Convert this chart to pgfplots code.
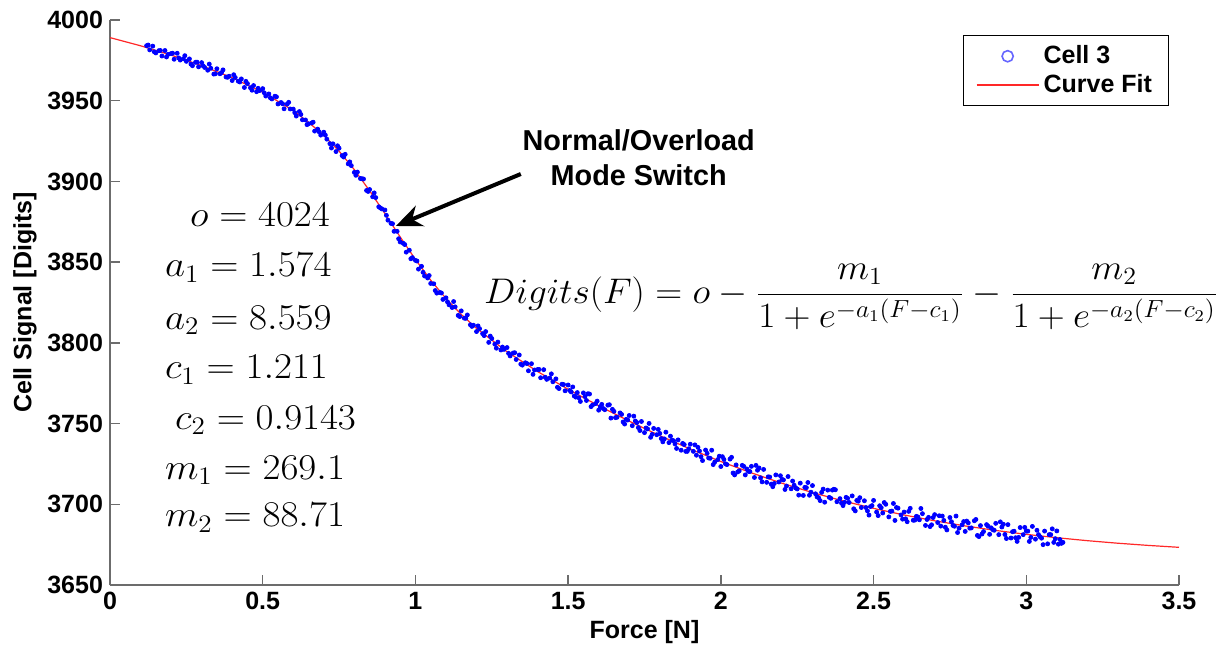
\documentclass[border=0pt]{standalone}
\usepackage[no-math]{fontspec}
\newfontfamily\hv{Liberation Sans}
\usepackage{pgfplots}
\pgfplotsset{compat=1.18}
\usetikzlibrary{arrows.meta}

\pgfplotstableread{
x y
0.12 3984.1
0.13 3981.5
0.14 3983.8
0.15 3979.6
0.16 3981.0
0.17 3977.7
0.18 3981.1
0.19 3978.7
0.20 3979.2
0.21 3975.7
0.22 3979.4
0.23 3975.2
0.24 3976.0
0.25 3974.4
0.26 3975.9
0.27 3971.7
0.28 3973.8
0.29 3971.0
0.30 3973.6
0.31 3970.6
0.32 3968.9
0.33 3970.1
0.34 3966.5
0.35 3969.8
0.36 3966.7
0.37 3969.1
0.38 3964.7
0.39 3965.2
0.40 3962.5
0.41 3964.4
0.42 3962.1
0.43 3963.5
0.44 3958.2
0.45 3960.6
0.46 3958.0
0.47 3959.4
0.48 3955.6
0.49 3956.3
0.50 3957.5
0.51 3952.9
0.52 3954.2
0.53 3951.1
0.54 3952.8
0.55 3948.0
0.56 3948.9
0.57 3945.0
0.58 3947.9
0.59 3944.9
0.60 3944.8
0.61 3940.5
0.62 3943.3
0.63 3938.2
0.64 3938.1
0.65 3935.7
0.66 3936.2
0.67 3931.2
0.68 3932.4
0.69 3928.7
0.70 3930.5
0.71 3926.2
0.72 3923.4
0.73 3923.3
0.74 3918.5
0.75 3920.6
0.76 3916.0
0.77 3916.8
0.78 3910.9
0.79 3909.8
0.80 3905.6
0.81 3905.8
0.82 3901.8
0.83 3901.5
0.84 3894.4
0.85 3895.0
0.86 3890.5
0.87 3890.0
0.88 3884.3
0.89 3883.0
0.90 3882.3
0.91 3876.0
0.92 3874.0
0.93 3869.1
0.94 3869.1
0.95 3862.5
0.96 3861.7
0.97 3856.2
0.98 3857.4
0.99 3852.8
1.00 3851.1
1.01 3845.7
1.02 3847.4
1.03 3841.4
1.04 3840.2
1.05 3836.8
1.06 3836.6
1.07 3830.8
1.08 3831.2
1.09 3826.9
1.10 3827.9
1.11 3823.6
1.12 3821.9
1.13 3822.3
1.14 3817.0
1.15 3819.8
1.16 3815.3
1.17 3817.3
1.18 3811.2
1.19 3810.9
1.20 3807.0
1.21 3808.8
1.22 3805.7
1.23 3807.0
1.24 3800.3
1.25 3802.7
1.26 3799.2
1.27 3800.5
1.28 3795.6
1.29 3796.0
1.30 3797.1
1.31 3791.9
1.32 3793.7
1.33 3789.7
1.34 3792.5
1.35 3786.2
1.36 3787.7
1.37 3782.7
1.38 3787.1
1.39 3783.2
1.40 3783.5
1.41 3778.4
1.42 3783.4
1.43 3777.4
1.44 3778.2
1.45 3775.9
1.46 3777.7
1.47 3771.7
1.48 3774.4
1.49 3770.3
1.50 3773.9
1.51 3769.6
1.52 3767.1
1.53 3769.2
1.54 3763.7
1.55 3769.0
1.56 3764.3
1.57 3768.3
1.58 3761.5
1.59 3762.4
1.60 3758.3
1.61 3761.9
1.62 3758.6
1.63 3761.4
1.64 3753.4
1.65 3757.6
1.66 3753.9
1.67 3756.6
1.68 3751.0
1.69 3752.6
1.70 3755.0
1.71 3748.7
1.72 3751.6
1.73 3747.5
1.74 3751.3
1.75 3744.4
1.76 3746.7
1.77 3741.5
1.78 3747.0
1.79 3743.1
1.80 3743.9
1.81 3738.7
1.82 3744.7
1.83 3738.2
1.84 3739.7
1.85 3737.4
1.86 3739.9
1.87 3733.5
1.88 3737.0
1.89 3732.8
1.90 3737.2
1.91 3732.8
1.92 3730.4
1.93 3733.0
1.94 3727.1
1.95 3733.6
1.96 3728.7
1.97 3733.5
1.98 3726.2
1.99 3727.7
2.00 3723.4
2.01 3727.8
2.02 3724.6
2.03 3728.0
2.04 3719.4
2.05 3724.4
2.06 3720.7
2.07 3724.1
2.08 3718.2
2.09 3720.4
2.10 3723.5
2.11 3716.6
2.12 3721.1
2.13 3716.4
2.14 3721.6
2.15 3713.6
2.16 3716.9
2.17 3710.9
2.18 3718.2
2.19 3713.8
2.20 3715.4
2.21 3709.2
2.22 3717.2
2.23 3709.6
2.24 3711.8
2.25 3709.5
2.26 3713.1
2.27 3705.5
2.28 3710.3
2.29 3705.6
2.30 3711.6
2.31 3706.5
2.32 3704.1
2.33 3707.4
2.34 3701.3
2.35 3708.8
2.36 3703.7
2.37 3709.3
2.38 3701.6
2.39 3703.5
2.40 3699.2
2.41 3704.3
2.42 3701.1
2.43 3705.2
2.44 3695.9
2.45 3701.9
2.46 3698.0
2.47 3702.2
2.48 3695.9
2.49 3698.6
2.50 3702.4
2.51 3695.2
2.52 3699.1
2.53 3694.6
2.54 3700.0
2.55 3692.2
2.56 3695.8
2.57 3690.0
2.58 3697.6
2.59 3693.4
2.60 3695.2
2.61 3689.2
2.62 3697.5
2.63 3690.1
2.64 3692.5
2.65 3690.4
2.66 3694.2
2.67 3686.9
2.68 3691.9
2.69 3687.3
2.70 3693.6
2.71 3688.7
2.72 3686.5
2.73 3690.0
2.74 3684.1
2.75 3691.8
2.76 3686.9
2.77 3692.7
2.78 3685.2
2.79 3687.3
2.80 3683.2
2.81 3688.5
2.82 3685.4
2.83 3689.8
2.84 3680.7
2.85 3686.8
2.86 3683.1
2.87 3687.4
2.88 3681.4
2.89 3684.3
2.90 3688.2
2.91 3681.2
2.92 3685.9
2.93 3681.3
2.94 3687.4
2.95 3679.1
2.96 3683.3
2.97 3677.0
2.98 3685.6
2.99 3681.2
3.00 3683.4
3.01 3677.0
3.02 3686.3
3.03 3678.4
3.04 3681.2
3.05 3679.0
3.06 3683.4
3.07 3675.5
3.08 3681.2
3.09 3676.4
3.10 3683.5
3.11 3678.2
3.12 3676.4
0.125 3984.5
0.145 3980.3
0.165 3981.1
0.185 3977.1
0.205 3979.4
0.225 3976.5
0.245 3977.9
0.265 3972.7
0.285 3973.9
0.305 3971.6
0.325 3972.7
0.345 3966.7
0.365 3967.4
0.385 3964.5
0.405 3966.1
0.425 3961.6
0.445 3962.0
0.465 3956.5
0.485 3957.7
0.505 3954.9
0.525 3951.8
0.545 3952.4
0.565 3948.1
0.585 3949.0
0.605 3942.6
0.625 3941.5
0.645 3935.2
0.665 3936.7
0.685 3930.7
0.705 3928.7
0.725 3920.7
0.745 3922.1
0.765 3915.1
0.785 3912.1
0.805 3903.8
0.825 3901.7
0.845 3893.8
0.865 3892.9
0.885 3883.6
0.905 3879.0
0.925 3873.8
0.945 3864.5
0.965 3860.9
0.985 3852.1
1.005 3850.7
1.025 3843.7
1.045 3841.7
1.065 3832.4
1.085 3830.9
1.105 3825.4
1.125 3825.6
1.145 3816.3
1.165 3815.2
1.185 3810.2
1.205 3810.5
1.225 3804.5
1.245 3804.2
1.265 3796.7
1.285 3797.4
1.305 3793.5
1.325 3793.9
1.345 3786.8
1.365 3787.2
1.385 3780.5
1.405 3783.5
1.425 3778.7
1.445 3780.8
1.465 3772.5
1.485 3774.2
1.505 3770.5
1.515 3772.7
1.535 3766.0
1.555 3766.8
1.575 3760.5
1.595 3763.9
1.615 3759.3
1.635 3761.7
1.655 3753.7
1.675 3755.7
1.695 3752.2
1.715 3754.6
1.735 3745.7
1.755 3747.3
1.775 3743.3
1.795 3746.4
1.815 3740.5
1.835 3742.2
1.855 3734.6
1.875 3737.7
1.895 3734.4
1.915 3736.8
1.935 3729.5
1.955 3731.6
1.975 3724.6
1.995 3729.8
2.015 3725.1
2.035 3729.1
2.055 3720.0
2.075 3723.5
2.095 3720.3
2.115 3724.1
2.135 3713.9
2.155 3717.0
2.175 3712.9
2.195 3717.7
2.215 3711.3
2.235 3714.4
2.255 3705.7
2.275 3710.5
2.295 3707.5
2.315 3704.6
2.335 3709.4
2.355 3704.3
2.375 3709.0
2.395 3700.8
2.415 3703.7
2.435 3697.2
2.455 3704.1
2.475 3698.0
2.495 3699.2
2.515 3693.0
2.535 3701.1
2.555 3695.6
2.575 3698.0
2.595 3690.8
2.615 3695.6
2.635 3690.2
2.655 3697.4
2.675 3690.6
2.695 3691.8
2.715 3692.9
2.735 3685.8
2.755 3689.2
2.775 3682.5
2.795 3689.3
2.815 3685.2
2.835 3690.6
2.855 3681.6
2.875 3686.4
2.895 3683.9
2.915 3689.1
2.935 3678.8
2.955 3683.0
2.975 3679.5
2.995 3685.7
3.015 3679.5
3.035 3683.9
3.055 3675.0
3.075 3681.2
3.095 3678.7
3.115 3675.8
1.525 3766.4
1.565 3768.5
1.605 3760.4
1.645 3758.8
1.685 3749.7
1.725 3750.6
1.765 3750.1
1.805 3740.7
1.845 3739.4
1.885 3732.8
1.925 3735.3
1.965 3728.5
2.005 3729.5
2.045 3718.2
2.085 3721.9
2.125 3722.5
2.165 3712.5
2.205 3715.1
2.245 3710.1
2.285 3713.5
2.325 3702.3
2.365 3708.8
2.405 3701.2
2.445 3702.4
2.485 3693.3
2.525 3697.9
2.565 3700.5
2.605 3691.0
2.645 3692.2
2.685 3686.2
2.725 3692.7
2.765 3686.4
2.805 3689.6
2.845 3680.0
2.885 3685.4
2.925 3687.6
2.965 3679.3
3.005 3683.4
3.045 3679.9
3.085 3684.8
3.105 3675.3
}\celldata

\pgfplotstableread{
x y
0.00 3989.10
0.10 3984.04
0.20 3978.27
0.30 3971.74
0.40 3964.23
0.50 3955.26
0.60 3943.94
0.65 3936.60
0.70 3928.60
0.75 3918.77
0.80 3907.29
0.85 3894.23
0.90 3880.09
0.95 3865.62
1.00 3851.66
1.05 3838.85
1.10 3827.50
1.15 3817.61
1.20 3808.98
1.30 3794.48
1.40 3782.24
1.50 3771.24
1.60 3761.04
1.70 3751.48
1.80 3742.53
1.90 3734.20
2.00 3726.50
2.10 3719.47
2.20 3713.05
2.30 3707.27
2.40 3702.09
2.50 3697.47
2.60 3693.37
2.70 3689.77
2.80 3686.59
2.90 3683.80
3.00 3681.38
3.10 3679.29
3.20 3677.46
3.30 3675.88
3.40 3674.52
3.50 3673.34
}\fitdata

\definecolor{fitred}{RGB}{255,40,40}

\begin{document}
\begin{tikzpicture}
\useasboundingbox (-55pt,-32.5pt) rectangle (558.5pt,292.5pt);
\begin{axis}[
  at={(0,0)}, anchor=south west,
  width=534.5pt, height=282.5pt, scale only axis,
  xmin=0, xmax=3.5, ymin=3650, ymax=4000,
  xtick={0,0.5,1,1.5,2,2.5,3,3.5},
  ytick={3650,3700,3750,3800,3850,3900,3950,4000},
  xticklabels={0,0.5,1,1.5,2,2.5,3,3.5},
  axis x line*=bottom, axis y line*=left,
  axis line style={draw=gray!85!black, line width=0.75pt, -},
  tick align=inside,
  major tick length=5pt,
  tick style={draw=gray!85!black, line width=0.75pt},
  scaled ticks=false,
  /pgf/number format/1000 sep={},
  /pgf/number format/assume math mode=true,
  tick label style={font=\hv\bfseries\fontsize{12.5}{15}\selectfont, black},
  label style={font=\hv\bfseries\fontsize{12.5}{15}\selectfont},
  xlabel={Force [N]},
  ylabel={Cell Signal [Digits]},
  xlabel style={at={(axis description cs:0.5,-0.083)}, anchor=center},
  ylabel style={at={(axis description cs:-0.0795,0.5)}, anchor=center},
  clip=false,
  legend style={at={(0.99,0.973)}, anchor=north east,
    font=\hv\bfseries\fontsize{12.5}{15}\selectfont, inner xsep=6pt, inner ysep=3pt,
    row sep=0pt},
  legend cell align=left,
]
\addplot[only marks, mark=*, mark size=1.0pt, blue, mark options={draw=blue, fill=blue},
  legend image code/.code={\draw[draw=blue!60!white, line width=0.8pt] (15.5pt,0pt) circle (2.8pt);}]
  table[x=x, y=y] {\celldata};
\addlegendentry{Cell 3}
\addplot[color=fitred, line width=0.6pt,
  legend image code/.code={%
    \pgfpathmoveto{\pgfpoint{0pt}{0pt}}%
    \pgfpathlineto{\pgfpoint{31pt}{0pt}}%
    \pgfsetstrokecolor{fitred}%
    \pgfsetlinewidth{0.9pt}%
    \pgfusepath{stroke}}]
  table[x=x, y=y] {\fitdata};
\addlegendentry{Curve Fit}

\draw[-{Stealth[length=13pt,width=11pt]}, line width=2pt, black]
  (axis cs:1.345,3904.6) -- (axis cs:0.936,3872.4);
\node[align=center, font=\hv\bfseries\fontsize{14.4}{17.5}\selectfont]
  at (axis cs:1.731,3914.8) {Normal/Overload\\Mode Switch};

\node[anchor=west, font=\fontsize{16.5}{20}\selectfont, inner sep=0pt] at (axis cs:1.224,3828.3)
  {\scalebox{1.08}[1.03]{$\displaystyle Digits(F) = o - \frac{m_1}{1+e^{-a_1(F-c_1)}} - \frac{m_2}{1+e^{-a_2(F-c_2)}}$}};

\node[anchor=west, font=\fontsize{16.5}{20}\selectfont] at (axis cs:0.239,3879.2) {\scalebox{1.13}[1.05]{$o = 4024$}};
\node[anchor=west, font=\fontsize{16.5}{20}\selectfont] at (axis cs:0.157,3846.4) {\scalebox{1.13}[1.05]{$a_1 = 1.574$}};
\node[anchor=west, font=\fontsize{16.5}{20}\selectfont] at (axis cs:0.157,3814.1) {\scalebox{1.13}[1.05]{$a_2 = 8.559$}};
\node[anchor=west, font=\fontsize{16.5}{20}\selectfont] at (axis cs:0.157,3783.2) {\scalebox{1.13}[1.05]{$c_1 = 1.211$}};
\node[anchor=west, font=\fontsize{16.5}{20}\selectfont] at (axis cs:0.190,3752.2) {\scalebox{1.13}[1.05]{$c_2 = 0.9143$}};
\node[anchor=west, font=\fontsize{16.5}{20}\selectfont] at (axis cs:0.157,3721.2) {\scalebox{1.13}[1.05]{$m_1 = 269.1$}};
\node[anchor=west, font=\fontsize{16.5}{20}\selectfont] at (axis cs:0.157,3691.5) {\scalebox{1.13}[1.05]{$m_2 = 88.71$}};
\end{axis}
\end{tikzpicture}
\end{document}
